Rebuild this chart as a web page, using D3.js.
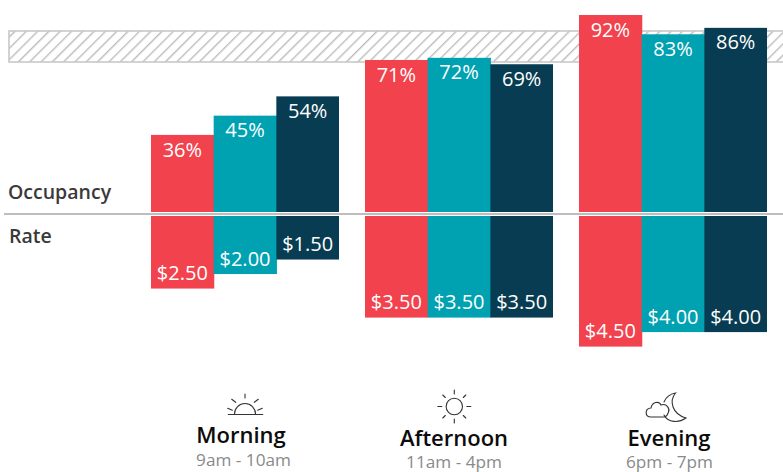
<!DOCTYPE html>
<html><head><meta charset="utf-8">
<script src="https://cdn.jsdelivr.net/npm/d3@7"></script>
<style>
html,body{margin:0;padding:0;background:#fff}
svg{display:block;font-family:"Open Sans",sans-serif}
</style></head><body><div id="c"></div>
<script>
const periods = ["Morning","Afternoon","Evening"];
const hours = ["9am - 10am","11am - 4pm","6pm - 7pm"];
const series = ["a","b","c"];
const colors = ["#f1424d","#00a2b2","#083c52"];
const occupancy = [[36,45,54],[71,72,69],[92,83,86]];
const rates = [[2.5,2,1.5],[3.5,3.5,3.5],[4.5,4,4]];
const W=783,H=472;
const svg=d3.select("#c").append("svg").attr("width",W).attr("height",H);
const x0=d3.scaleBand().domain(periods).range([151,767]).paddingInner(26/214).paddingOuter(0);
const x1=d3.scaleBand().domain(series).range([0,x0.bandwidth()]);
const yUp=d3.scaleLinear().domain([0,92]).range([212,15]);
const yDown=d3.scaleLinear().domain([0,4.5]).range([216,346.6]);
const fmtRate=d3.format("$.2f");

const defs=svg.append("defs");
const pat=defs.append("pattern").attr("id","hatch").attr("width",8).attr("height",8)
  .attr("patternUnits","userSpaceOnUse").attr("patternTransform","rotate(45)");
pat.append("rect").attr("width",8).attr("height",8).attr("fill","#fff");
pat.append("rect").attr("x",0).attr("y",0).attr("width",1.4).attr("height",8).attr("fill","#bcbcbc");
svg.append("rect").attr("x",9).attr("y",31).attr("width",780).attr("height",31)
  .attr("fill","url(#hatch)").attr("stroke","#c8c8c8").attr("stroke-width",1.6);

svg.append("line").attr("x1",4).attr("x2",W).attr("y1",214).attr("y2",214).attr("stroke","#a9a9a9").attr("stroke-width",1.5);

periods.forEach((p,i)=>{
  const g=svg.append("g").attr("transform",`translate(${x0(p)},0)`);
  series.forEach((s,j)=>{
    const bx=x1(s),bw=x1.bandwidth();
    const extra=j<2?0.6:0;
    g.append("rect").attr("x",bx).attr("y",yUp(occupancy[i][j])).attr("width",bw+extra)
      .attr("height",yUp(0)-yUp(occupancy[i][j])).attr("fill",colors[j]);
    g.append("rect").attr("x",bx).attr("y",yDown(0)).attr("width",bw+extra)
      .attr("height",yDown(rates[i][j])-yDown(0)).attr("fill",colors[j]);
    g.append("text").attr("x",bx+bw/2).attr("y",yUp(occupancy[i][j])+21.6)
      .attr("text-anchor","middle").attr("fill","#fff").attr("font-size",20).text(occupancy[i][j]+"%");
    g.append("text").attr("x",bx+bw/2).attr("y",yDown(rates[i][j])-8.5)
      .attr("text-anchor","middle").attr("fill","#fff").attr("font-size",20).text(fmtRate(rates[i][j]));
  });
});

svg.append("text").attr("x",8).attr("y",199).attr("font-size",19.5).attr("font-weight",600).attr("fill","#3a3a3a").text("Occupancy");
svg.append("text").attr("x",9).attr("y",243).attr("font-size",19.5).attr("font-weight",600).attr("fill","#3a3a3a").text("Rate");

const labelX=[241,454,669], hourX=[243.5,454,669.5], nameY=[443,446,446], hourY=[466,468,468];
periods.forEach((p,i)=>{
  svg.append("text").attr("x",labelX[i]).attr("y",nameY[i]).attr("text-anchor","middle")
    .attr("font-size",22).attr("font-weight",600).attr("fill","#0c0c0c").text(p);
  svg.append("text").attr("x",hourX[i]).attr("y",hourY[i]).attr("text-anchor","middle")
    .attr("font-size",17.2).attr("fill","#8a8a8a").text(hours[i]);
});

const ico={fill:"none",stroke:"#333","stroke-width":1.1,"stroke-linecap":"round"};
function path(g,d){const e=g.append("path").attr("d",d);Object.entries(ico).forEach(([k,v])=>e.attr(k,v));}
// sunrise
const sr=svg.append("g").attr("transform","translate(245,415)");
path(sr,"M-16.7,-0.5H17.7");
path(sr,"M-10.5,-1A10.5,10.5 0 0 1 10.5,-1");
path(sr,"M0,-21V-17 M-13.3,-15.7L-9.3,-12.7 M13.3,-15.7L9.3,-12.7 M-17.3,-6.7L-12.7,-4.7 M17.3,-6.7L12.7,-4.7");
// sun
const su=svg.append("g").attr("transform","translate(454.3,406.5)");
su.append("circle").attr("r",8.2).attr("fill","none").attr("stroke","#333").attr("stroke-width",1.1);
path(su,"M0,-16.5V-12.5 M0,16.5V12.5 M-16.5,0H-12.5 M16.5,0H12.5 M-11.5,-11.5L-9,-9 M11.5,-11.5L9,-9 M-11.5,11.5L-9,9 M11.5,11.5L9,9");
// moon + cloud
const mo=svg.append("g").attr("transform","translate(669,406)");
path(mo,"M-5,-4C-3,-9 1,-12 6.5,-13C0,-5 3,8 17,12C10,17 -1,17 -5,9");
path(mo,"M-10,11H-18C-24.5,11 -24.5,2 -18,2C-17,-4 -10,-5.5 -8,-1C-2,-3 1,3 -0.5,6C-1.5,9 -3,11 -5,11H-10");
</script></body></html>
